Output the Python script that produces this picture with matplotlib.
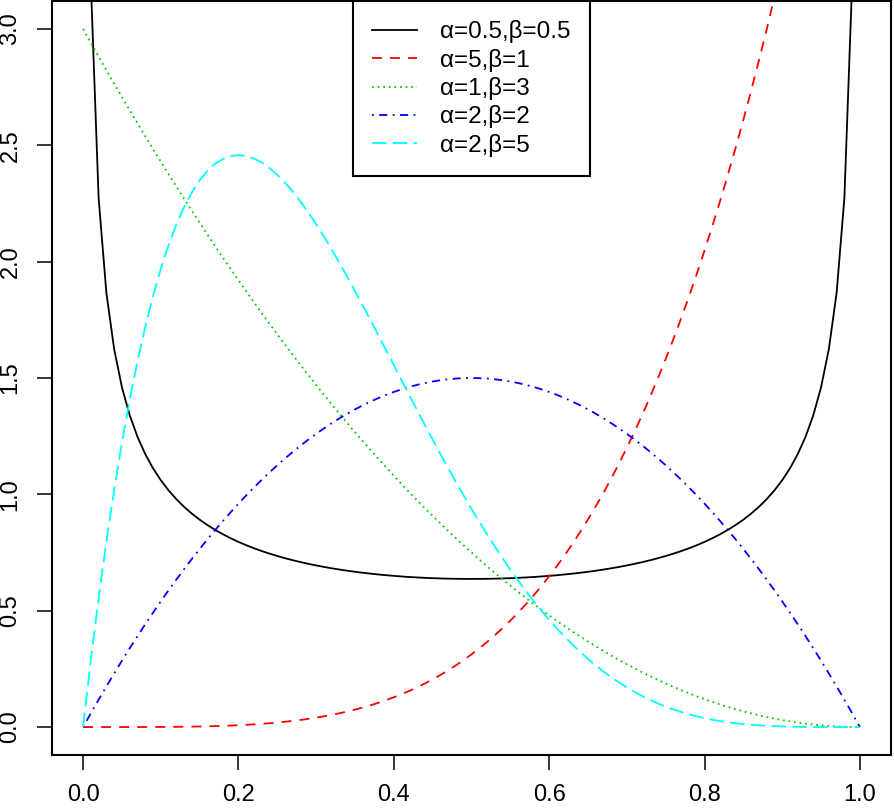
import numpy as np
import matplotlib.pyplot as plt
from math import gamma

plt.rcParams['font.family'] = ['Liberation Sans', 'DejaVu Sans']

# beta distribution parameters shown in the legend
alphas = [0.5, 5, 1, 2, 2]
betas = [0.5, 1, 3, 2, 5]
labels = ['α=0.5,β=0.5', 'α=5,β=1', 'α=1,β=3', 'α=2,β=2', 'α=2,β=5']
colors = ['black', 'red', '#00CD00', 'blue', 'cyan']
styles = ['-', (0, (5.5, 4.5)), (0, (1, 2.1)), (0, (1, 3, 4.5, 3)), (0, (8, 3.5))]

xticks = [0.0, 0.2, 0.4, 0.6, 0.8, 1.0]
yticks = [0.0, 0.5, 1.0, 1.5, 2.0, 2.5, 3.0]

x = np.linspace(0, 1, 101)

fig = plt.figure(figsize=(8.95, 8.08), dpi=100)
ax = fig.add_axes([52/895, (808-755)/808, (891-52)/895, 754/808])

for a, b, c, ls, lab in zip(alphas, betas, colors, styles, labels):
    with np.errstate(divide='ignore', invalid='ignore'):
        y = gamma(a + b) / (gamma(a) * gamma(b)) * x**(a - 1) * (1 - x)**(b - 1)
    y[~np.isfinite(y)] = np.nan
    ax.plot(x, y, color=c, linestyle=ls, linewidth=1.3, label=lab)

ax.set_xlim(-0.04, 1.04)
ax.set_ylim(-0.12, 3.12)
ax.set_xticks(xticks)
ax.set_yticks(yticks)
ax.set_xticklabels([f'{t:.1f}' for t in xticks])
ax.set_yticklabels([f'{t:.1f}' for t in yticks], rotation=90, va='center')
ax.tick_params(length=11, width=1.1, labelsize=17)
ax.tick_params(axis='x', pad=10)
ax.tick_params(axis='y', pad=11)
for s in ax.spines.values():
    s.set_linewidth(1.5)

leg = ax.legend(loc='upper center', bbox_to_anchor=(0.5, 1.0), borderaxespad=0,
                fancybox=False, framealpha=1, edgecolor='black', fontsize=17.5,
                handlelength=1.85, handletextpad=0.95, labelspacing=0.22,
                borderpad=0.8)
leg.get_frame().set_linewidth(1.5)

fig.savefig('out.png', dpi=100)
